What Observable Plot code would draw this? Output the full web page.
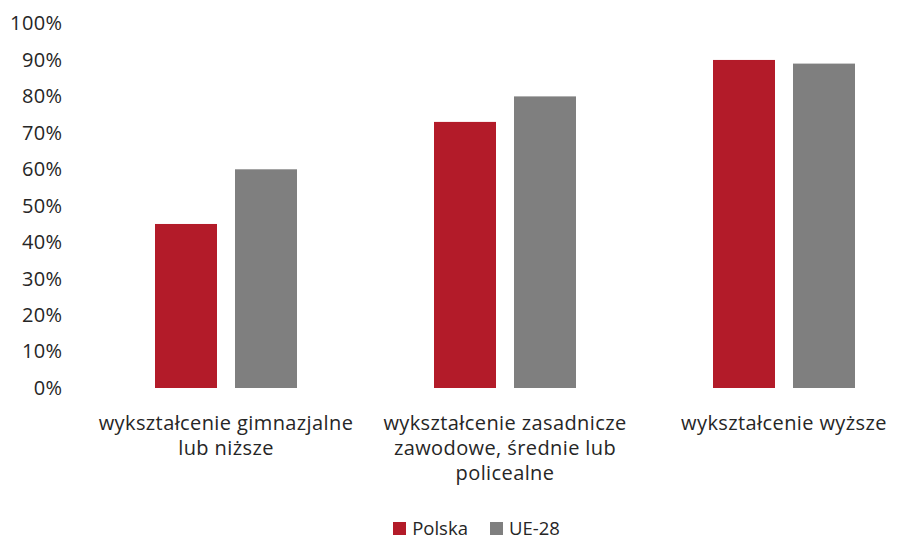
<!DOCTYPE html>
<html>
<head>
<meta charset="utf-8">
<script src="https://cdn.jsdelivr.net/npm/d3@7"></script>
<script src="https://cdn.jsdelivr.net/npm/@observablehq/plot@0.6"></script>
<style>
  html, body { margin: 0; padding: 0; background: #fff; }
  body { width: 911px; height: 541px; font-family: "Open Sans", sans-serif; position: relative; }
  #legend { position: absolute; left: 0; top: 517px; width: 911px; display: flex; justify-content: center; align-items: center; gap: 22px; font-size: 18.5px; line-height: 22px; color: #262626; height: 22px; padding-left: 42px; box-sizing: border-box; }
  #legend span.item { display: flex; align-items: center; gap: 6px; }
  #legend span.sw { width: 13px; height: 13px; display: inline-block; }
  svg text { letter-spacing: 0.4px; }
</style>
</head>
<body>
<div id="chart"></div>
<div id="legend"></div>
<script>
const categories = [
  "wykształcenie gimnazjalne\nlub niższe",
  "wykształcenie zasadnicze\nzawodowe, średnie lub\npolicealne",
  "wykształcenie wyższe"
];
const series = ["Polska", "UE-28"];
const polska = [45, 73, 90];
const ue28 = [60, 80, 89];
const yTicks = [0, 10, 20, 30, 40, 50, 60, 70, 80, 90, 100];
const colors = ["#B31B29", "#7F7F7F"];

const dataPL = categories.map((c, i) => ({category: c, value: polska[i]}));
const dataUE = categories.map((c, i) => ({category: c, value: ue28[i]}));

const chart = Plot.plot({
  width: 911,
  height: 505,
  marginTop: 23,
  marginBottom: 117,
  marginLeft: 86,
  marginRight: 0,
  style: {fontFamily: "'Open Sans', sans-serif", fontSize: "20px", color: "#262626", background: "#fff"},
  x: {domain: categories, range: [86, 923], padding: 0, label: null},
  y: {domain: [0, 100], range: [388, 23.5], label: null},
  marks: [
    Plot.ruleY(yTicks, {x1: 86, x2: 911, stroke: "#D9D9D9", strokeWidth: 1.5}),
    Plot.barY(dataPL, {x: "category", y: "value", fill: colors[0], insetLeft: 69, insetRight: 148}),
    Plot.barY(dataUE, {x: "category", y: "value", fill: colors[1], insetLeft: 149, insetRight: 68}),
    Plot.axisY({ticks: yTicks, tickFormat: d => d + "%", tickSize: 0, tickPadding: 24, fontSize: 20, fill: "#262626", label: null}),
    Plot.axisX({tickSize: 0, tickPadding: 24, fontSize: 20, fill: "#262626", lineHeight: 1.25, lineWidth: 100, label: null})
  ]
});
document.getElementById("chart").appendChild(chart);

const legend = document.getElementById("legend");
series.forEach((s, i) => {
  const item = document.createElement("span");
  item.className = "item";
  const sw = document.createElement("span");
  sw.className = "sw";
  sw.style.background = colors[i];
  item.appendChild(sw);
  item.appendChild(document.createTextNode(s));
  legend.appendChild(item);
});
</script>
</body>
</html>
